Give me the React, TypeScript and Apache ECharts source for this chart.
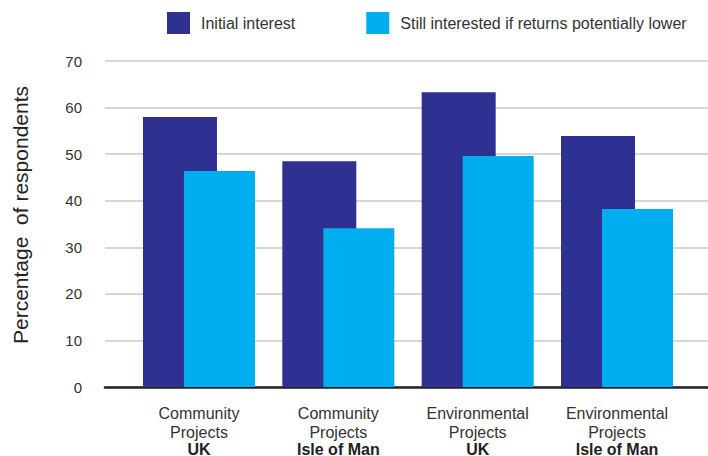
import React, { useEffect, useRef } from "react";
import * as echarts from "echarts";

const projectLine1 = ["Community", "Community", "Environmental", "Environmental"];
const projectLine2 = ["Projects", "Projects", "Projects", "Projects"];
const regions = ["UK", "Isle of Man", "UK", "Isle of Man"];
const categories = ["Community Projects UK", "Community Projects Isle of Man", "Environmental Projects UK", "Environmental Projects Isle of Man"];
const initialInterest = [58.0, 48.5, 63.3, 53.9];
const stillInterested = [46.4, 34.1, 49.6, 38.2];
const seriesNames = ["Initial interest", "Still interested if returns potentially lower"];
const yTicks = { min: 0, max: 70, interval: 10 };
const yAxisTitle = "Percentage  of respondents";

const FONT = "'Liberation Sans', Arial, Helvetica, sans-serif";

export default function App() {
  const ref = useRef<HTMLDivElement>(null);
  useEffect(() => {
    if (!ref.current) return;
    const chart = echarts.init(ref.current, null, { renderer: "svg" });
    const top = 61;
    const bottom = 69;
    chart.setOption({
      animation: false,
      backgroundColor: "#ffffff",
      textStyle: { fontFamily: FONT },
      legend: {
        left: 167,
        top: 12,
        padding: 0,
        itemWidth: 23,
        itemHeight: 22,
        itemGap: 71,
        icon: "rect",
        data: seriesNames,
        textStyle: { fontSize: 16, color: "#333333", fontFamily: FONT, padding: [0, 0, 0, 6] },
      },
      grid: [
        { left: 105, right: 0, top, bottom, containLabel: false, outerBoundsMode: "none" },
        { left: 129.3, right: 21.3, top, bottom, containLabel: false, outerBoundsMode: "none" },
      ],
      xAxis: [
        {
          gridIndex: 0,
          type: "value",
          min: 0,
          max: 1,
          axisLine: { show: true, onZero: false, lineStyle: { color: "#222222", width: 2.6 } },
          axisTick: { show: false },
          axisLabel: { show: false },
          splitLine: { show: false },
        },
        {
          gridIndex: 1,
          type: "category",
          data: categories,
          axisLine: { show: false },
          axisTick: { show: false },
          axisLabel: {
            interval: 0,
            hideOverlap: false,
            margin: 17,
            fontSize: 16,
            lineHeight: 19,
            color: "#333333",
            fontFamily: FONT,
            align: "center",
            formatter: (_v: string, i: number) =>
              `{n|${projectLine1[i]}}\n{n|${projectLine2[i]}}\n{b|${regions[i]}}`,
            rich: {
              n: { fontSize: 16, lineHeight: 19, color: "#333333", fontFamily: FONT, align: "center" },
              b: { fontWeight: "bold", fontSize: 16, lineHeight: 14, color: "#222222", fontFamily: FONT, align: "center" },
            },
          },
        },
      ],
      yAxis: [
        {
          gridIndex: 0,
          type: "value",
          min: yTicks.min,
          max: yTicks.max,
          interval: yTicks.interval,
          axisLine: { show: false },
          axisTick: { show: false },
          axisLabel: { fontSize: 15, color: "#333333", margin: 23, fontFamily: FONT },
          splitLine: { show: true, lineStyle: { color: "#c8c8c8", width: 1.5 } },
        },
        {
          gridIndex: 1,
          type: "value",
          min: yTicks.min,
          max: yTicks.max,
          interval: yTicks.interval,
          show: false,
          splitLine: { show: false },
        },
      ],
      series: [
        {
          name: seriesNames[0],
          type: "bar",
          xAxisIndex: 1,
          yAxisIndex: 1,
          data: initialInterest,
          barWidth: 74,
          barGap: "-44.6%",
          itemStyle: { color: "#2e3192" },
        },
        {
          name: seriesNames[1],
          type: "bar",
          xAxisIndex: 1,
          yAxisIndex: 1,
          data: stillInterested,
          barWidth: 71,
          barGap: "-44.6%",
          itemStyle: { color: "#00aeef" },
        },
      ],
      graphic: [
        {
          type: "text",
          x: 20,
          y: 215,
          rotation: Math.PI / 2,
          style: {
            text: yAxisTitle,
            fontSize: 21,
            fontFamily: FONT,
            fill: "#222222",
            textAlign: "center",
            textVerticalAlign: "middle",
          },
        },
      ],
    });
    return () => chart.dispose();
  }, []);
  return <div ref={ref} style={{ width: 708, height: 456, position: "absolute", left: 0, top: 0 }} />;
}
